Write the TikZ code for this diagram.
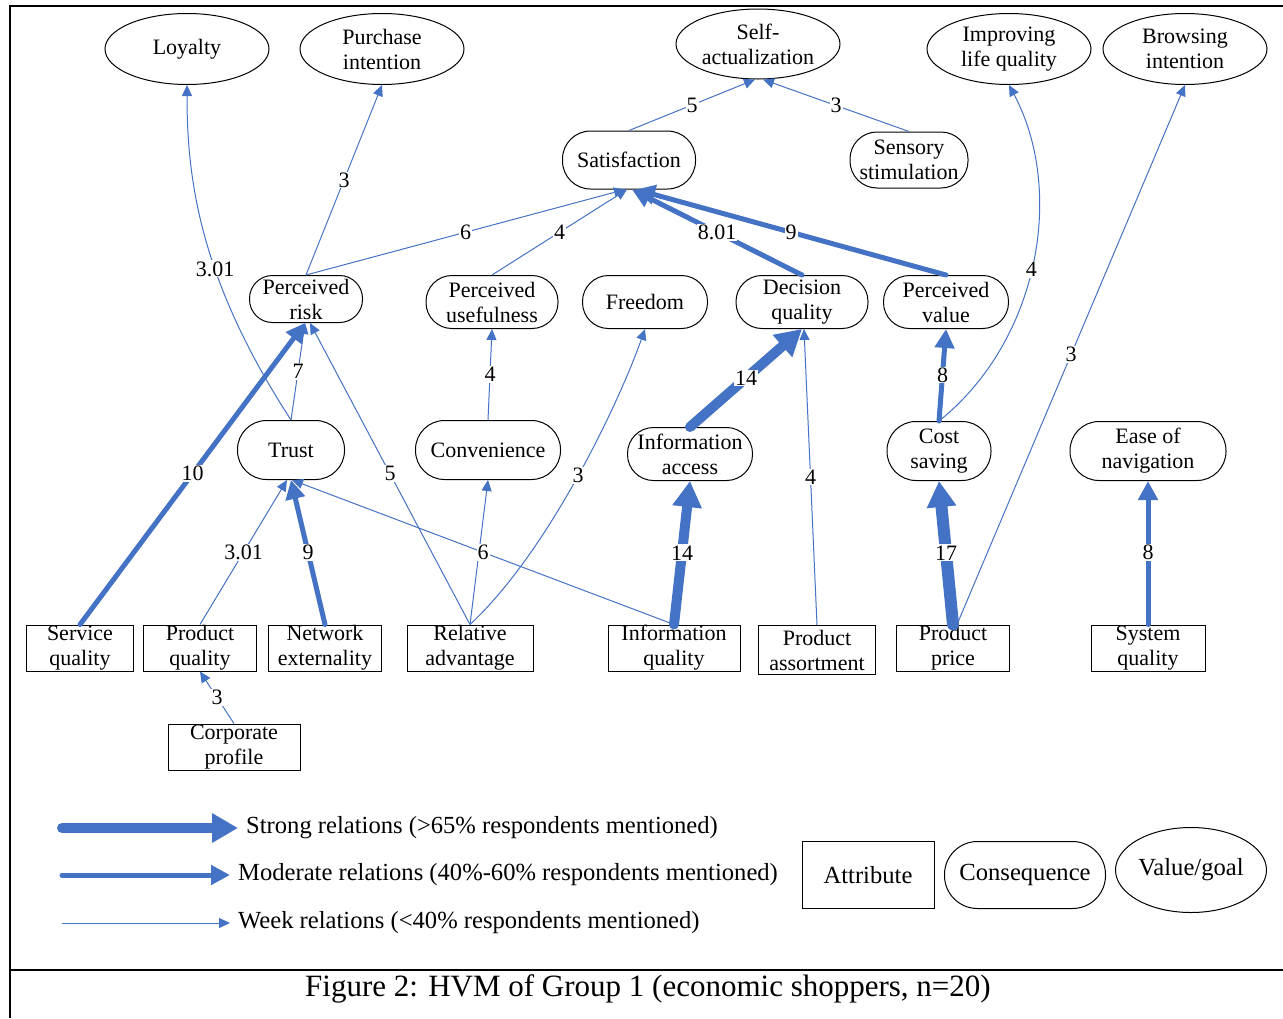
\documentclass[tikz,border=0pt]{standalone}
\usepackage{fontspec}
\setmainfont{Liberation Serif}
\usepackage{tikz}
\usetikzlibrary{arrows.meta,shapes.geometric}
\definecolor{hvmblue}{HTML}{4472C4}

\begin{document}
\begin{tikzpicture}[x=1pt, y=-1pt,
    every node/.style={font=\fontsize{22}{25}\selectfont, align=center, inner sep=0pt},
    attr/.style={draw, line width=1pt, rectangle, minimum height=46pt},
    conseq/.style={draw, line width=1pt, rectangle, rounded corners=26pt, minimum height=53pt},
    goal/.style={draw, line width=1pt, ellipse, minimum width=164pt, minimum height=71pt},
    weak/.style={hvmblue, line width=1pt, -{Triangle[length=11pt,width=10pt]}},
    moderate/.style={hvmblue, line width=5pt, line cap=round, -{Triangle[length=19pt,width=19pt]}},
    strong/.style={hvmblue, line width=10pt, line cap=round, -{Triangle[length=26pt,width=28pt]}},
    num/.style={fill=white, text=black, inner sep=1pt},
    legfont/.style={font=\fontsize{24.6}{27}\selectfont},
    legtext/.style={legfont, anchor=west, inner xsep=8pt}]

  \useasboundingbox (0,0) rectangle (1283,1018);

  % values / goals
  \node[goal] (loyal) at (187,49) {Loyalty};
  \node[goal] (purch) at (382,49) {Purchase\\intention};
  \node[goal, minimum height=70pt] (selfact) at (758,44) {Self-\\actualization};
  \node[goal] (improve) at (1009,49) {Improving\\life quality};
  \node[goal] (browse) at (1185,49) {Browsing\\intention};

  % consequences
  \node[conseq, minimum width=133pt, minimum height=58pt, rounded corners=28pt] (satis) at (629,160) {Satisfaction};
  \node[conseq, minimum width=118pt, minimum height=56pt, rounded corners=27pt] (sensory) at (909,160) {Sensory\\stimulation};
  \node[conseq, minimum width=113pt, minimum height=47pt, rounded corners=23pt] (prisk) at (306,299) {Perceived\\risk};
  \node[conseq, minimum width=132pt] (puse) at (492,302) {Perceived\\usefulness};
  \node[conseq, minimum width=125pt] (freedom) at (645,302) {Freedom};
  \node[conseq, minimum width=132pt] (decq) at (802,302) {Decision\\quality};
  \node[conseq, minimum width=125pt] (pval) at (946,302) {Perceived\\value};
  \node[conseq, minimum width=107pt, minimum height=59pt, rounded corners=29pt] (trust) at (291,450) {Trust};
  \node[conseq, minimum width=145pt, minimum height=59pt, rounded corners=29pt] (conv) at (488,450) {Convenience};
  \node[conseq, minimum width=125pt] (infoa) at (690,454) {Information\\access};
  \node[conseq, minimum width=104pt, minimum height=59pt, rounded corners=29pt] (costs) at (939,451) {Cost\\saving};
  \node[conseq, minimum width=156pt, minimum height=59pt, rounded corners=29pt] (ease) at (1148,451) {Ease of\\navigation};

  % attributes
  \node[attr, minimum width=107pt] (servq) at (80,648) {Service\\quality};
  \node[attr, minimum width=113pt] (prodq) at (200,648) {Product\\quality};
  \node[attr, minimum width=113pt] (netx) at (325,648) {Network\\externality};
  \node[attr, minimum width=126pt] (relad) at (470,648) {Relative\\advantage};
  \node[attr, minimum width=132pt] (infoq) at (674,648) {Information\\quality};
  \node[attr, minimum width=117pt, minimum height=49pt] (prasst) at (817,650) {Product\\assortment};
  \node[attr, minimum width=113pt] (prodp) at (953,648) {Product\\price};
  \node[attr, minimum width=114pt] (sysq) at (1148,648) {System\\quality};
  \node[attr, minimum width=132pt] (corp) at (234,747) {Corporate\\profile};

  % links
  \draw[weak] (satis.north) -- node[num]{5} ([xshift=-3pt]selfact.south);
  \draw[weak] (sensory.north) -- node[num]{3} ([xshift=5pt]selfact.south);
  \draw[weak] (prisk.north) -- node[num]{3} (purch.south);
  \draw[weak] (prisk.north) -- node[num]{6} ([xshift=-4pt]satis.south);
  \draw[weak] (puse.north) -- node[num]{4} ([xshift=-2pt]satis.south);
  \draw[moderate] (decq.north) -- node[num]{8.01} ([xshift=3pt]satis.south);
  \draw[moderate] (pval.north) -- node[num]{9} ([xshift=7pt]satis.south);
  \draw[weak] (trust.north) .. controls (200,280) and (187,180) .. node[num, pos=0.4]{3.01} (loyal.south);
  \draw[weak] (trust.north) -- node[num]{7} ([xshift=-1pt]prisk.south);
  \draw[moderate] (servq.north) -- node[num]{10} ([xshift=-1pt]prisk.south);
  \draw[weak] (relad.north) -- node[num]{5} ([xshift=4pt]prisk.south);
  \draw[weak] (prodq.north) -- node[num]{3.01} ([xshift=-4pt]trust.south);
  \draw[moderate] (netx.north) -- node[num]{9} (trust.south);
  \draw[weak] (relad.north) -- (conv.south);
  \draw[weak] (infoq.north) -- node[num]{6} ([xshift=1pt]trust.south);
  \draw[weak] (relad.north) .. controls (550,550) and (620,400) .. node[num]{3} (freedom.south);
  \draw[weak] (conv.north) -- node[num]{4} (puse.south);
  \draw[strong] (infoa.north) -- node[num]{14} (decq.south);
  \draw[strong] (infoq.north) -- node[num]{14} (infoa.south);
  \draw[weak] (prasst.north) -- node[num]{4} ([xshift=2pt]decq.south);
  \draw[moderate] (costs.north) -- node[num]{8} (pval.south);
  \draw[weak] (costs.north) .. controls (1040,340) and (1065,190) .. node[num, pos=0.48]{4} (improve.south);
  \draw[strong, line width=12pt] (prodp.north) -- node[num]{17} (costs.south);
  \draw[weak] ([xshift=4pt]prodp.north) -- node[num]{3} (browse.south);
  \draw[moderate] (sysq.north) -- node[num]{8} (ease.south);
  \draw[weak] (corp.north) -- node[num]{3} (prodq.south);

  % legend
  \coordinate (strongS) at (62,828);
  \coordinate (modS) at (62,875);
  \coordinate (weakS) at (62,923);
  \node[legtext] (strongT) at (238,828) {Strong relations (>65\% respondents mentioned)};
  \node[legtext] (modT) at (230,875) {Moderate relations (40\%-60\% respondents mentioned)};
  \node[legtext] (weakT) at (230,923) {Week relations (<40\% respondents mentioned)};
  \draw[strong] (strongS) -- (strongT.west);
  \draw[moderate] (modS) -- (modT.west);
  \draw[weak] (weakS) -- (weakT.west);
  \node[attr, legfont, minimum width=132pt, minimum height=67pt] (legA) at (868,875) {Attribute};
  \node[conseq, legfont, minimum width=161pt, minimum height=67pt, rounded corners=33pt] (legC) at (1025,875) {Consequence};
  \node[goal, legfont, minimum width=151pt, minimum height=85pt] (legV) at (1191,870) {Value/goal};

  % frame and caption
  \draw[line width=2pt] (1283,6) -- (10,6) -- (10,1018);
  \draw[line width=2pt] (10,970) -- (1283,970);
  \node[font=\fontsize{31}{34}\selectfont] (caption) at (648,989) {Figure 2: HVM of Group 1 (economic shoppers, n=20)};
\end{tikzpicture}
\end{document}
